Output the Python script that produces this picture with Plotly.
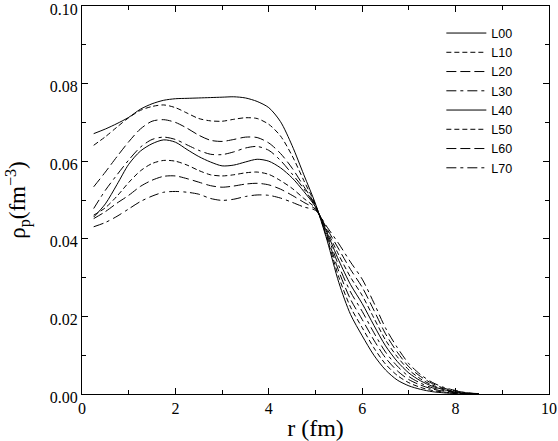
import plotly.graph_objects as go

r = [0.25, 0.5, 0.75, 1.0, 1.25, 1.5, 1.75, 2.0, 2.25, 2.5, 2.75, 3.0, 3.25, 3.5,
     3.75, 4.0, 4.25, 4.5, 4.75, 5.0, 5.25, 5.5, 5.75, 6.0, 6.25, 6.5, 6.75, 7.0,
     7.25, 7.5, 7.75, 8.0, 8.25, 8.5]

labels = ["L00", "L10", "L20", "L30", "L40", "L50", "L60", "L70"]

x_ticks = [0, 2, 4, 6, 8, 10]
y_ticks = [0.00, 0.02, 0.04, 0.06, 0.08, 0.10]
y_tick_text = ["0.00", "0.02", "0.04", "0.06", "0.08", "0.10"]

rho_100 = [0.0671, 0.0683, 0.0697, 0.0713, 0.0734, 0.0748, 0.0757, 0.0761, 0.0762, 0.0763,
           0.0764, 0.0765, 0.0766, 0.0763, 0.0754, 0.0738, 0.0702, 0.0640, 0.0565, 0.0490,
           0.0395, 0.0287, 0.0205, 0.0150, 0.0100, 0.0062, 0.0036, 0.0021, 0.0012, 0.0006,
           0.0003, 0.0001, 0.0000, 0.0000]
rho_110 = [0.0641, 0.0663, 0.0688, 0.0712, 0.0731, 0.0741, 0.0745, 0.0738, 0.0724, 0.0710,
           0.0704, 0.0703, 0.0708, 0.0712, 0.0710, 0.0695, 0.0665, 0.0614, 0.0550, 0.0488,
           0.0400, 0.0301, 0.0224, 0.0171, 0.0119, 0.0077, 0.0048, 0.0029, 0.0017, 0.0009,
           0.0005, 0.0002, 0.0001, 0.0000]
rho_120 = [0.0534, 0.0572, 0.0612, 0.0650, 0.0683, 0.0703, 0.0707, 0.0700, 0.0685, 0.0667,
           0.0654, 0.0651, 0.0656, 0.0662, 0.0661, 0.0647, 0.0620, 0.0582, 0.0535, 0.0486,
           0.0405, 0.0316, 0.0244, 0.0192, 0.0139, 0.0093, 0.0060, 0.0037, 0.0023, 0.0013,
           0.0007, 0.0003, 0.0001, 0.0000]
rho_130 = [0.0478, 0.0525, 0.0565, 0.0603, 0.0636, 0.0656, 0.0662, 0.0656, 0.0642, 0.0628,
           0.0618, 0.0617, 0.0624, 0.0634, 0.0638, 0.0628, 0.0602, 0.0567, 0.0529, 0.0484,
           0.0410, 0.0330, 0.0263, 0.0213, 0.0158, 0.0108, 0.0072, 0.0045, 0.0028, 0.0016,
           0.0009, 0.0004, 0.0001, 0.0000]
rho_140 = [0.0456, 0.0490, 0.0540, 0.0592, 0.0626, 0.0645, 0.0655, 0.0649, 0.0630, 0.0612,
           0.0598, 0.0588, 0.0590, 0.0598, 0.0605, 0.0600, 0.0583, 0.0557, 0.0522, 0.0482,
           0.0415, 0.0344, 0.0282, 0.0233, 0.0177, 0.0124, 0.0084, 0.0054, 0.0034, 0.0020,
           0.0011, 0.0005, 0.0002, 0.0000]
rho_150 = [0.0461, 0.0480, 0.0510, 0.0545, 0.0575, 0.0594, 0.0602, 0.0600, 0.0590, 0.0576,
           0.0565, 0.0562, 0.0565, 0.0570, 0.0572, 0.0566, 0.0550, 0.0530, 0.0504, 0.0479,
           0.0420, 0.0358, 0.0301, 0.0254, 0.0196, 0.0139, 0.0096, 0.0062, 0.0039, 0.0023,
           0.0013, 0.0006, 0.0002, 0.0000]
rho_160 = [0.0452, 0.0470, 0.0492, 0.0512, 0.0535, 0.0551, 0.0561, 0.0562, 0.0555, 0.0546,
           0.0537, 0.0533, 0.0536, 0.0541, 0.0543, 0.0539, 0.0528, 0.0512, 0.0494, 0.0476,
           0.0425, 0.0373, 0.0321, 0.0275, 0.0216, 0.0155, 0.0108, 0.0070, 0.0045, 0.0027,
           0.0015, 0.0008, 0.0003, 0.0000]
rho_170 = [0.0431, 0.0442, 0.0458, 0.0477, 0.0496, 0.0510, 0.0520, 0.0522, 0.0520, 0.0515,
           0.0504, 0.0499, 0.0502, 0.0509, 0.0513, 0.0512, 0.0505, 0.0494, 0.0482, 0.0473,
           0.0430, 0.0387, 0.0340, 0.0296, 0.0235, 0.0170, 0.0120, 0.0078, 0.0050, 0.0030,
           0.0017, 0.0009, 0.0003, 0.0001]

series = [rho_100, rho_110, rho_120, rho_130, rho_140, rho_150, rho_160, rho_170]
dashes = ["solid", "5px,3px", "10px,4px", "10px,4px,3px,4px",
          "solid", "5px,3px", "10px,4px", "10px,4px,3px,4px"]

SERIF = "Liberation Serif, Times New Roman, Times, serif"

fig = go.Figure()
for lab, ys, d in zip(labels, series, dashes):
    fig.add_trace(go.Scatter(
        x=r, y=ys, mode="lines", name=lab,
        line=dict(color="black", width=1, dash=d, shape="spline", smoothing=0.8),
    ))

axis_font = dict(family=SERIF, size=16, color="black")
fig.update_layout(
    width=558, height=441,
    margin=dict(l=82, r=9, t=6, b=47, autoexpand=False),
    paper_bgcolor="white", plot_bgcolor="white",
    showlegend=True,
    legend=dict(x=0.7695, y=0.968, xanchor="left", yanchor="top",
                bgcolor="rgba(0,0,0,0)", borderwidth=0,
                font=dict(family="Liberation Sans Narrow, Liberation Sans, sans-serif", size=12.5, color="black"),
                tracegroupgap=0, itemwidth=40),
    xaxis=dict(range=[0, 10], tickmode="array", tickvals=x_ticks, ticks="inside", ticklen=6,
               tickcolor="black", showline=True, linecolor="black", linewidth=1,
               mirror="allticks", showgrid=False, zeroline=False, automargin=False,
               tickfont=axis_font, ticklabeloverflow="allow",
               minor=dict(dtick=1, tick0=0, ticks="inside", ticklen=4, tickcolor="black", showgrid=False),
               title=dict(text="r (fm)", font=dict(family=SERIF, size=24, color="black"),
                          standoff=7)),
    yaxis=dict(range=[0, 0.1], tickmode="array", tickvals=y_ticks, ticktext=y_tick_text,
               ticks="inside", ticklen=6,
               tickcolor="black", showline=True, linecolor="black", linewidth=1,
               mirror="allticks", showgrid=False, zeroline=False, automargin=False,
               tickfont=axis_font, ticklabeloverflow="allow", ticklabelshift=3,
               minor=dict(dtick=0.01, tick0=0, ticks="inside", ticklen=4, tickcolor="black", showgrid=False),
               title=dict(text="ρ<sub>p</sub>(fm<sup>−3</sup>)",
                          font=dict(family=SERIF, size=23, color="black"),
                          standoff=17)),
)

fig.write_html("out.html", config={"displayModeBar": False},
               post_script="document.body.style.margin='0';document.body.style.padding='0';")
